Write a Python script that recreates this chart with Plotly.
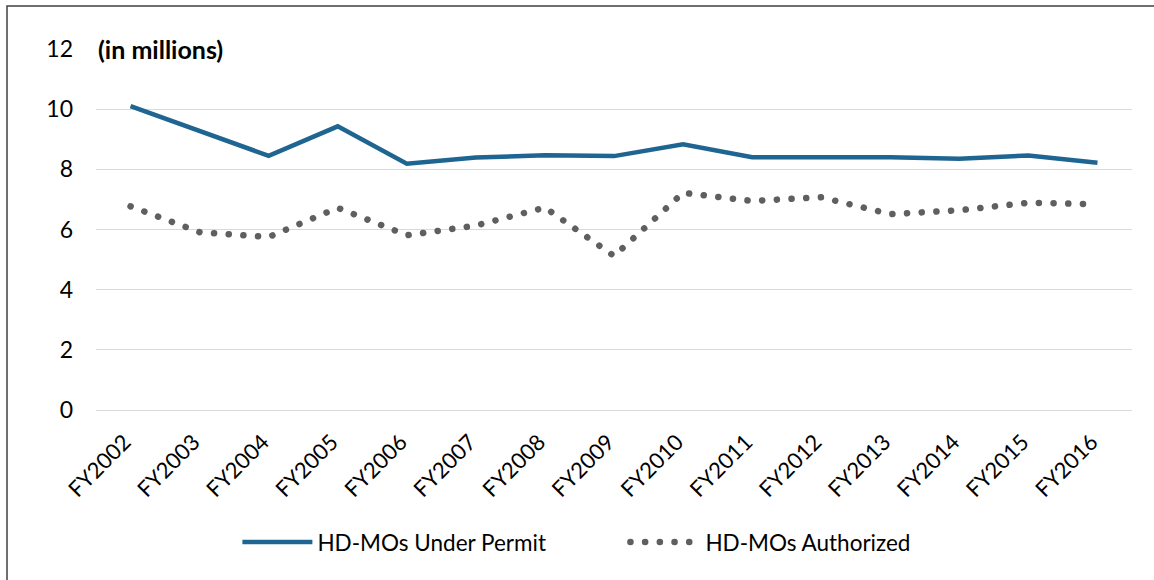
import plotly.graph_objects as go

# dados (em milhões)
anos = ["FY2002", "FY2003", "FY2004", "FY2005", "FY2006", "FY2007", "FY2008", "FY2009",
        "FY2010", "FY2011", "FY2012", "FY2013", "FY2014", "FY2015", "FY2016"]
sob_permissao = [10.10, 9.27, 8.45, 9.43, 8.19, 8.39, 8.47, 8.44,
                 8.83, 8.40, 8.40, 8.40, 8.35, 8.46, 8.22]
autorizados = [6.77, 5.91, 5.75, 6.72, 5.81, 6.13, 6.73, 5.12,
               7.22, 6.95, 7.07, 6.51, 6.64, 6.89, 6.84]
y_ticks = [0, 2, 4, 6, 8, 10, 12]

fonte = "Lato, 'Open Sans', sans-serif"

fig = go.Figure()
fig.add_trace(go.Scatter(x=anos, y=sob_permissao, mode="lines", name="HD-MOs Under Permit",
                         line=dict(color="#1F6591", width=4.5)))
fig.add_trace(go.Scatter(x=anos, y=autorizados, mode="lines", name="HD-MOs Authorized",
                         line=dict(color="#5F5F5F", width=6.5, dash="0.1px,14.6px")))

fig.add_annotation(text="<b>(in millions)</b>", xref="paper", yref="y", x=0, y=12,
                   xanchor="left", yanchor="middle", showarrow=False,
                   font=dict(size=25, color="#000000", family=fonte), bgcolor="white")

# moldura externa (só topo e esquerda aparecem)
fig.add_shape(type="rect", xref="paper", yref="paper", x0=-0.0859, x1=1.2, y0=-0.7, y1=1.119,
              line=dict(color="#404040", width=1.5))

fig.update_layout(
    width=1154, height=580,
    margin=dict(l=96, r=22, t=49, b=170),
    paper_bgcolor="white", plot_bgcolor="white",
    font=dict(family=fonte, size=23, color="#000000"),
    showlegend=True,
    legend=dict(orientation="h", x=0.511, xanchor="center", y=-0.367, yanchor="middle",
                font=dict(size=22.5), itemwidth=70, entrywidth=303, entrywidthmode="pixels",
                traceorder="normal"),
    xaxis=dict(tickangle=-45, showgrid=False, showline=False, ticks="",
               range=[-0.5, 14.5], tickfont=dict(size=22),
               ticklabelstandoff=14, ticklabelshift=-6),
    yaxis=dict(range=[0, 12], tickvals=y_ticks, showgrid=True, gridcolor="#D9D9D9",
               gridwidth=1.3, zeroline=True, zerolinecolor="#D9D9D9", zerolinewidth=1.3,
               ticks="", ticklabelstandoff=22, tickfont=dict(size=23)),
)

post = """
document.body.style.margin = '0';
document.querySelectorAll('path').forEach(function(p){
  if (p.style.strokeDasharray && p.style.strokeDasharray !== 'none') { p.style.strokeLinecap = 'round'; }
});
"""
fig.write_html("out.html", post_script=post, config={"displayModeBar": False})
